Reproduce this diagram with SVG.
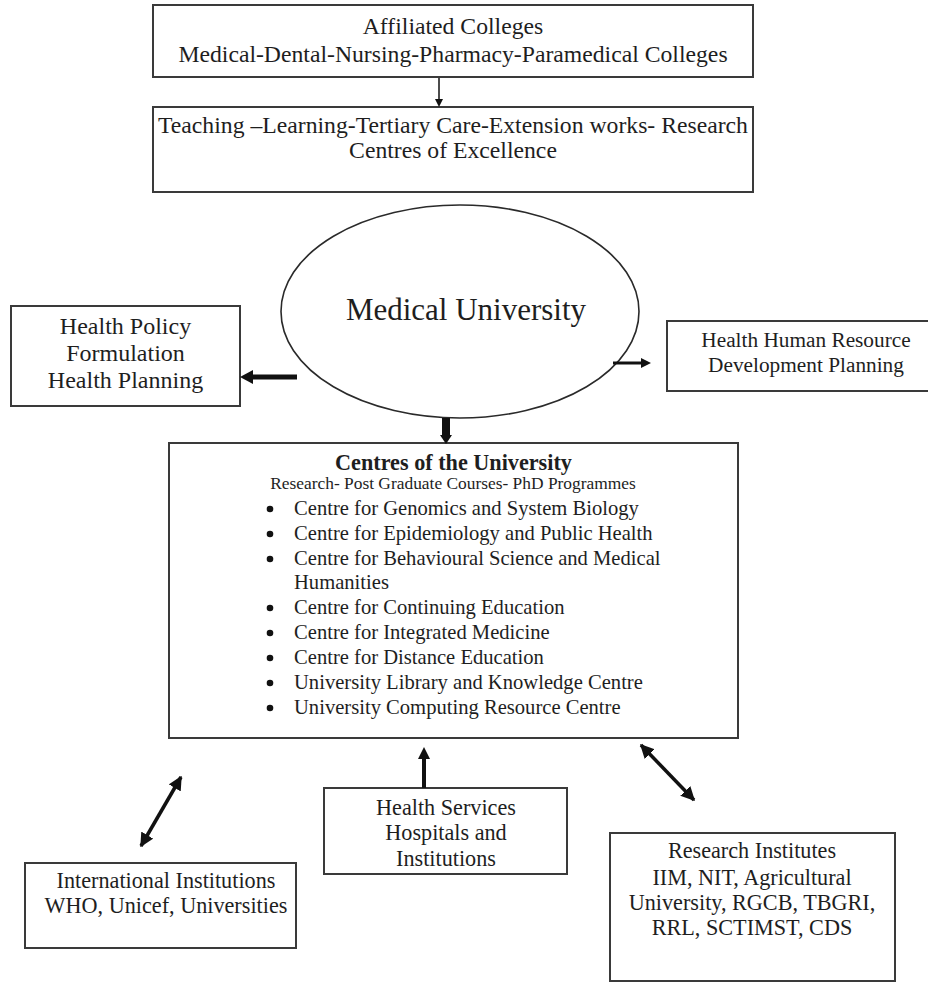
<svg xmlns="http://www.w3.org/2000/svg" width="928" height="984" viewBox="0 0 928 984">
<defs>
<style>
.box{fill:#fff;stroke:#3a3a3a;stroke-width:2}
.t{font-family:"Liberation Serif","Times New Roman",serif;fill:#1e1e1e;text-anchor:middle}
.tl{font-family:"Liberation Serif","Times New Roman",serif;fill:#1e1e1e}
.top{font-size:23.7px}
.side{font-size:24px}
.hr{font-size:21.3px}
.bot{font-size:22.2px}
.li{font-size:20.6px}
.ln{stroke:#111;fill:none}
.hd{fill:#111}
</style>
<marker id="dbl" viewBox="0 0 10 10" refX="9" refY="5" markerWidth="4" markerHeight="4" orient="auto-start-reverse" markerUnits="strokeWidth">
<path d="M0,0 L10,5 L0,10 z" fill="#111"/>
</marker>
</defs>
<rect width="928" height="984" fill="#fff"/>

<g id="affiliated">
<rect class="box" x="153" y="5" width="600" height="72"/>
<text class="t top" x="453" y="34">Affiliated Colleges</text>
<text class="t top" x="453" y="62">Medical-Dental-Nursing-Pharmacy-Paramedical Colleges</text>
</g>

<g id="teaching">
<rect class="box" x="153" y="107" width="600" height="85"/>
<text class="t top" x="453" y="133">Teaching –Learning-Tertiary Care-Extension works- Research</text>
<text class="t top" x="453" y="158">Centres of Excellence</text>
</g>

<g id="university">
<ellipse cx="460" cy="311.5" rx="179" ry="106.5" fill="#fff" stroke="#2a2a2a" stroke-width="1.6"/>
<text class="t" x="466" y="320" font-size="31px">Medical University</text>
</g>

<g id="policy">
<rect class="box" x="11" y="306" width="229" height="100"/>
<text class="t side" x="125.5" y="334">Health Policy</text>
<text class="t side" x="125.5" y="361">Formulation</text>
<text class="t side" x="125.5" y="388">Health Planning</text>
</g>

<g id="hrd">
<rect class="box" x="667" y="321" width="276" height="70"/>
<text class="t hr" x="806" y="347">Health Human Resource</text>
<text class="t hr" x="806" y="372">Development Planning</text>
</g>

<g id="centres">
<rect class="box" x="169" y="443" width="569" height="295"/>
<text class="t" x="453.5" y="470" font-size="22.2px" font-weight="bold">Centres of the University</text>
<text class="t" x="453" y="489" font-size="17.4px">Research- Post Graduate Courses- PhD Programmes</text>
<g fill="#111">
<circle cx="270" cy="509" r="3.3"/>
<circle cx="270" cy="534" r="3.3"/>
<circle cx="270" cy="559" r="3.3"/>
<circle cx="270" cy="608" r="3.3"/>
<circle cx="270" cy="633" r="3.3"/>
<circle cx="270" cy="658" r="3.3"/>
<circle cx="270" cy="683" r="3.3"/>
<circle cx="270" cy="708" r="3.3"/>
</g>
<text class="tl li" x="294" y="515">Centre for Genomics and System Biology</text>
<text class="tl li" x="294" y="540">Centre for Epidemiology and Public Health</text>
<text class="tl li" x="294" y="565">Centre for Behavioural Science and Medical</text>
<text class="tl li" x="294" y="589">Humanities</text>
<text class="tl li" x="294" y="614">Centre for Continuing Education</text>
<text class="tl li" x="294" y="639">Centre for Integrated Medicine</text>
<text class="tl li" x="294" y="664">Centre for Distance Education</text>
<text class="tl li" x="294" y="689">University Library and Knowledge Centre</text>
<text class="tl li" x="294" y="714">University Computing Resource Centre</text>
</g>

<g id="services">
<rect class="box" x="324" y="788" width="243" height="86"/>
<text class="t bot" x="446" y="815">Health Services</text>
<text class="t bot" x="446" y="840">Hospitals and</text>
<text class="t bot" x="446" y="866">Institutions</text>
</g>

<g id="international">
<rect class="box" x="25" y="863" width="271" height="85"/>
<text class="t bot" x="166" y="888">International Institutions</text>
<text class="t bot" x="166" y="913">WHO, Unicef, Universities</text>
</g>

<g id="research">
<rect class="box" x="610" y="833" width="285" height="148"/>
<text class="t bot" x="752" y="858">Research Institutes</text>
<text class="t bot" x="752" y="885">IIM, NIT, Agricultural</text>
<text class="t bot" x="752" y="910">University, RGCB, TBGRI,</text>
<text class="t bot" x="752" y="935">RRL, SCTIMST, CDS</text>
</g>

<g id="connectors">
<line class="ln" x1="439" y1="78" x2="439" y2="100" stroke-width="1.5"/>
<polygon class="hd" points="435,99 443,99 439,107"/>
<line class="ln" x1="297" y1="377" x2="252" y2="377" stroke-width="5"/>
<polygon class="hd" points="253,370 253,384 240,377"/>
<line class="ln" x1="613" y1="363" x2="643" y2="363" stroke-width="3"/>
<polygon class="hd" points="641,358 641,368 651,363"/>
<rect class="hd" x="442" y="418" width="8" height="18"/>
<polygon class="hd" points="440,435 452,435 446,444"/>
<line class="ln" x1="424" y1="788" x2="424" y2="758" stroke-width="4"/>
<polygon class="hd" points="418,759 430,759 424,747"/>
<line class="ln" x1="181" y1="777" x2="141" y2="846" stroke-width="3.5" marker-start="url(#dbl)" marker-end="url(#dbl)"/>
<line class="ln" x1="641" y1="745" x2="694" y2="800" stroke-width="3.5" marker-start="url(#dbl)" marker-end="url(#dbl)"/>
</g>
</svg>
